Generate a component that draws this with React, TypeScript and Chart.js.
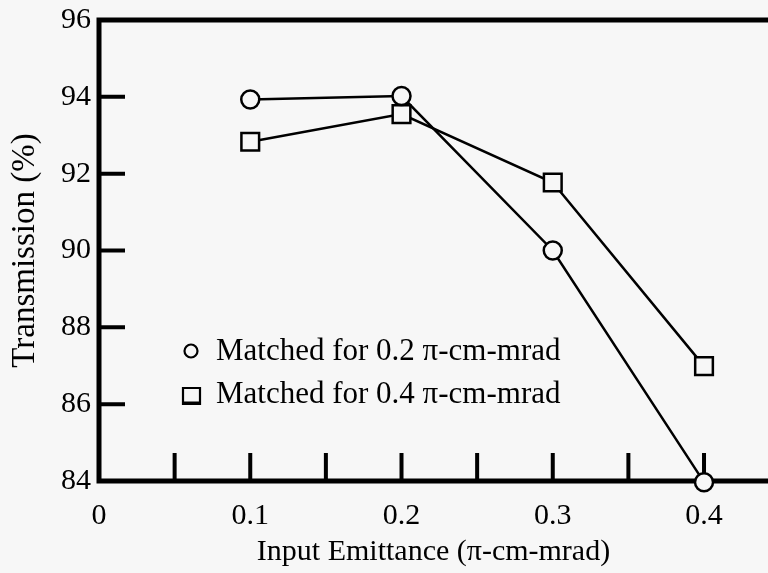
import React, { useEffect, useRef } from "react";
import { Chart, registerables } from "chart.js";

Chart.register(...registerables);

const xValues = [0.1, 0.2, 0.3, 0.4];
const matched02 = [93.93, 94.02, 90.0, 83.97];
const matched04 = [92.83, 93.55, 91.77, 86.99];
const seriesLabels = ["Matched for 0.2 \u03c0-cm-mrad", "Matched for 0.4 \u03c0-cm-mrad"];
const xTickLabels = [0, 0.1, 0.2, 0.3, 0.4];
const xTickMarks = [0.05, 0.1, 0.15, 0.2, 0.25, 0.3, 0.35, 0.4];
const yTickLabels = [84, 86, 88, 90, 92, 94, 96];
const yTickMarks = [86, 88, 90, 92, 94];
const xTitle = "Input Emittance (\u03c0-cm-mrad)";
const yTitle = "Transmission (%)";

const FONT = "'Liberation Serif', 'Times New Roman', serif";
const BG = "#f7f7f7";

const framePlugin = {
  id: "frame",
  beforeDraw(chart: any) {
    const { ctx, width, height } = chart;
    ctx.save();
    ctx.fillStyle = BG;
    ctx.fillRect(0, 0, width, height);
    ctx.restore();
  },
  beforeDatasetsDraw(chart: any) {
    const { ctx, chartArea } = chart;
    const xs = chart.scales.x;
    const ys = chart.scales.y;
    ctx.save();
    ctx.strokeStyle = "#000";
    ctx.lineCap = "butt";
    ctx.lineWidth = 4;
    ctx.beginPath();
    xTickMarks.forEach((v) => {
      const px = xs.getPixelForValue(v);
      ctx.moveTo(px, chartArea.bottom);
      ctx.lineTo(px, chartArea.bottom - 28);
    });
    yTickMarks.forEach((v) => {
      const py = ys.getPixelForValue(v);
      ctx.moveTo(chartArea.left, py);
      ctx.lineTo(chartArea.left + 26, py);
    });
    ctx.stroke();
    ctx.lineWidth = 5;
    ctx.beginPath();
    ctx.moveTo(chart.width, chartArea.top);
    ctx.lineTo(chartArea.left, chartArea.top);
    ctx.lineTo(chartArea.left, chartArea.bottom);
    ctx.lineTo(chart.width, chartArea.bottom);
    ctx.stroke();
    ctx.restore();
  },
  afterDatasetsDraw(chart: any) {
    const { ctx, chartArea } = chart;
    ctx.save();
    ctx.font = `31px ${FONT}`;
    ctx.fillStyle = "#000";
    ctx.textBaseline = "middle";
    ctx.textAlign = "left";
    const lx = chartArea.left + 92;
    const rows = [chartArea.top + 332, chartArea.top + 375];
    chart.data.datasets.forEach((ds: any, i: number) => {
      const y = rows[i];
      ctx.strokeStyle = "#000";
      ctx.lineWidth = 2.2;
      ctx.fillStyle = BG;
      ctx.beginPath();
      if (ds.pointStyle === "circle") {
        ctx.arc(lx, y - 1, 6.5, 0, Math.PI * 2);
        ctx.fill();
        ctx.stroke();
      } else {
        ctx.rect(lx - 8, y - 7, 17, 16);
        ctx.fill();
        ctx.stroke();
        ctx.lineWidth = 3;
        ctx.beginPath();
        ctx.moveTo(lx - 9, y + 8);
        ctx.lineTo(lx + 10, y + 8);
        ctx.stroke();
      }
      ctx.fillStyle = "#000";
      ctx.fillText(ds.label, lx + 25, y);
    });
    ctx.restore();
  },
};

export default function App() {
  const ref = useRef<HTMLCanvasElement | null>(null);
  useEffect(() => {
    document.body.style.margin = "0";
    document.body.style.background = BG;
    const canvas = ref.current!;
    const mk = (vals: number[]) => xValues.map((x, i) => ({ x, y: vals[i] }));
    const chart = new Chart(canvas, {
      type: "scatter",
      data: {
        datasets: [
          {
            label: seriesLabels[0],
            data: mk(matched02),
            showLine: true,
            borderColor: "#000",
            borderWidth: 2.5,
            pointStyle: "circle",
            pointRadius: 9,
            pointBorderWidth: 2.5,
            pointBackgroundColor: BG,
            pointBorderColor: "#000",
            clip: false,
          } as any,
          {
            label: seriesLabels[1],
            data: mk(matched04),
            showLine: true,
            borderColor: "#000",
            borderWidth: 2.5,
            pointStyle: "rect",
            pointRadius: 12.5,
            pointBorderWidth: 2.5,
            pointBackgroundColor: BG,
            pointBorderColor: "#000",
            clip: false,
          } as any,
        ],
      },
      options: {
        animation: false,
        responsive: false,
        devicePixelRatio: 1,
        layout: { autoPadding: false, padding: { left: 0, top: 20, right: 0, bottom: 0 } },
        plugins: {
          legend: { display: false },
          tooltip: { enabled: false },
        },
        scales: {
          x: {
            type: "linear",
            min: 0,
            max: 0.4423,
            grid: { display: false, drawTicks: false },
            border: { display: false },
            afterBuildTicks: (scale: any) => {
              scale.ticks = xTickLabels.map((v) => ({ value: v }));
            },
            afterFit: (scale: any) => {
              scale.height = 92;
              scale.paddingLeft = 0;
              scale.paddingRight = 0;
            },
            ticks: {
              color: "#000",
              font: { family: FONT, size: 30 },
              padding: 17,
              maxRotation: 0,
              autoSkip: false,
              callback: (v: any) => String(v),
            },
            title: {
              display: true,
              text: xTitle,
              color: "#000",
              font: { family: FONT, size: 30 },
              padding: { top: 0, bottom: 3 },
            },
          },
          y: {
            type: "linear",
            min: 84,
            max: 96,
            grid: { display: false, drawTicks: false },
            border: { display: false },
            afterBuildTicks: (scale: any) => {
              scale.ticks = yTickLabels.map((v) => ({ value: v }));
            },
            afterFit: (scale: any) => {
              scale.width = 99;
              scale.paddingTop = 0;
              scale.paddingBottom = 0;
            },
            ticks: {
              color: "#000",
              font: { family: FONT, size: 30 },
              padding: 8,
              autoSkip: false,
              callback: (v: any) => String(v),
            },
            title: {
              display: true,
              text: yTitle,
              color: "#000",
              font: { family: FONT, size: 33 },
              padding: { top: 6, bottom: 0 },
            },
          },
        },
      } as any,
      plugins: [framePlugin],
    });
    return () => chart.destroy();
  }, []);
  return (
    <div style={{ position: "absolute", left: 0, top: 0, width: 768, height: 573 }}>
      <canvas ref={ref} width={768} height={573} style={{ display: "block", width: 768, height: 573 }} />
    </div>
  );
}
